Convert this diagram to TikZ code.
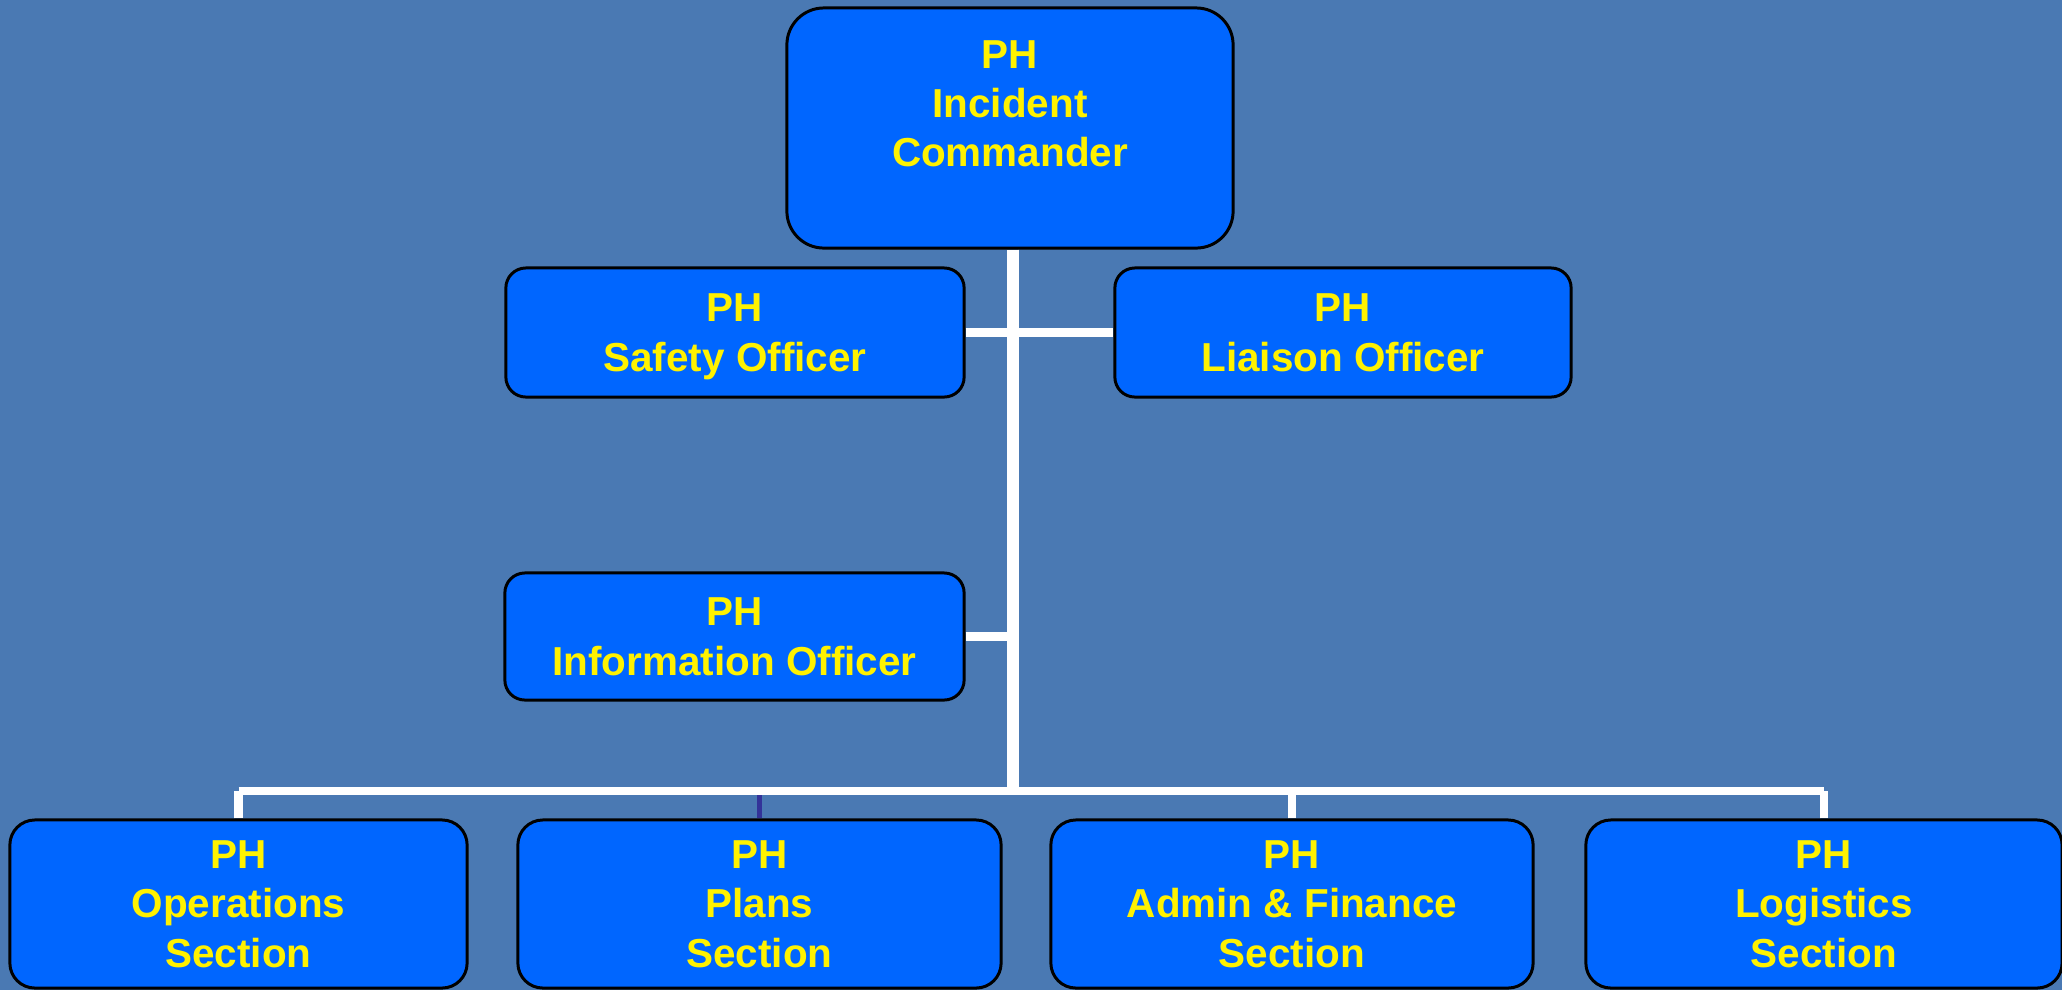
\documentclass[tikz,border=0pt]{standalone}
\usepackage{fontspec}
\setmainfont{Liberation Sans}
\usetikzlibrary{calc,positioning}
\definecolor{BackBlue}{HTML}{4A79B3}
\definecolor{BoxBlue}{HTML}{0066FF}
\definecolor{TickBlue}{HTML}{333399}
\begin{document}
\begin{tikzpicture}[x=0.01cm,y=-0.01cm,rolebox/.style={draw=black,line width=0.85pt,fill=BoxBlue,text=yellow,font=\bfseries\fontsize{11.5}{14}\selectfont,align=center,inner sep=0pt,text depth=0pt,rounded corners=0.2cm,minimum height=1.29cm},wire/.style={draw=white,line width=2.3pt}]
\fill [BackBlue] (0,0) rectangle (2062,990);
\useasboundingbox (0,0) rectangle (2062,990);
\node [rolebox,minimum width=4.46cm,minimum height=2.4cm,rounded corners=0.37cm] (Commander) at (1010,128) {PH\\Incident\\Commander\\\mbox{}};
\node [rolebox,minimum width=4.58cm] (SafetyOfficer) at (735,332.5) {PH\\Safety Officer};
\node [rolebox,minimum width=4.56cm] (LiaisonOfficer) at (1343,332.5) {PH\\Liaison Officer};
\node [rolebox,minimum width=4.59cm,minimum height=1.27cm] (InfoOfficer) at (734.5,636.5) {PH\\Information Officer};
\node [rolebox,minimum width=4.57cm,minimum height=1.68cm,rounded corners=0.25cm] (OpsSection) at (238.5,904) {PH\\Operations\\Section};
\node [rolebox,minimum width=4.83cm,minimum height=1.68cm,rounded corners=0.25cm] (PlansSection) at (759.5,904) {PH\\Plans\\Section};
\node [rolebox,minimum width=4.82cm,minimum height=1.68cm,rounded corners=0.25cm] (AdminSection) at (1292,904) {PH\\Admin \& Finance\\Section};
\node [rolebox,minimum width=4.76cm,minimum height=1.68cm,rounded corners=0.25cm] (LogisticsSection) at (1824,904) {PH\\Logistics\\Section};
\coordinate (Bus) at (1013,791);
\draw [wire] (SafetyOfficer.east) -- (LiaisonOfficer.west);
\draw [wire] (InfoOfficer.east) -- (InfoOfficer.east -| Bus);
\draw [wire] (OpsSection.north) -- (OpsSection.north |- Bus);
\draw [wire,draw=TickBlue,line width=1.7pt] (PlansSection.north) -- (PlansSection.north |- Bus);
\draw [wire] (AdminSection.north) -- (AdminSection.north |- Bus);
\draw [wire] (LogisticsSection.north) -- (LogisticsSection.north |- Bus);
\draw [wire] (OpsSection.north |- Bus) -- (LogisticsSection.north |- Bus);
\draw [wire,line width=3.4pt] (Commander.south -| Bus) -- (Bus);
\end{tikzpicture}
\end{document}
